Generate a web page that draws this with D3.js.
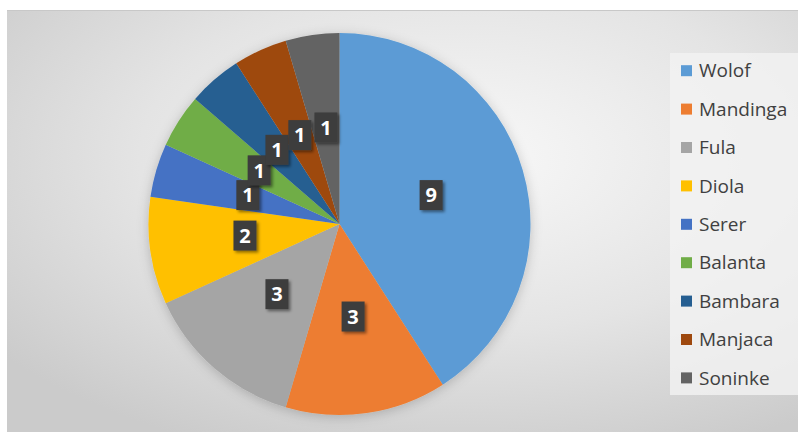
<!DOCTYPE html>
<html>
<head>
<meta charset="utf-8">
<script src="https://cdn.jsdelivr.net/npm/d3@7"></script>
<style>
html,body{margin:0;padding:0;background:#fff;}
svg{display:block;}
</style>
</head>
<body>
<svg id="chart" width="798" height="432"></svg>
<script>
const categories = ["Wolof","Mandinga","Fula","Diola","Serer","Balanta","Bambara","Manjaca","Soninke"];
const values = [9,3,3,2,1,1,1,1,1];
const colors = ["#5B9BD5","#ED7D31","#A5A5A5","#FFC000","#4472C4","#70AD47","#255E91","#9E480E","#636363"];

const svg = d3.select("#chart");
const W = 798, H = 432;
const defs = svg.append("defs");

const bg = defs.append("radialGradient").attr("id","bg")
  .attr("cx","58%").attr("cy","35%").attr("r","75%");
bg.append("stop").attr("offset","0%").attr("stop-color","#f8f8f8");
bg.append("stop").attr("offset","55%").attr("stop-color","#e4e4e4");
bg.append("stop").attr("offset","100%").attr("stop-color","#cbcbcb");

const shadow = defs.append("filter").attr("id","sh").attr("x","-50%").attr("y","-50%").attr("width","200%").attr("height","200%");
shadow.append("feDropShadow").attr("dx",2).attr("dy",2).attr("stdDeviation",1.5).attr("flood-color","#000").attr("flood-opacity",0.45);

const pieShadow = defs.append("filter").attr("id","psh").attr("x","-20%").attr("y","-20%").attr("width","140%").attr("height","140%");
pieShadow.append("feDropShadow").attr("dx",0).attr("dy",2).attr("stdDeviation",6).attr("flood-color","#000").attr("flood-opacity",0.2);

// chart area
svg.append("rect").attr("x",7).attr("y",10).attr("width",W-7).attr("height",H-10).attr("fill","url(#bg)");
svg.append("line").attr("x1",7).attr("x2",W).attr("y1",10.5).attr("y2",10.5).attr("stroke","#c8c8c8").attr("stroke-width",1);

const cx = 339.5, cy = 224, R = 191;
const pie = d3.pie().sort(null).value(d => d)(values);
const arc = d3.arc().innerRadius(0).outerRadius(R);
const labelArc = d3.arc().innerRadius(R*0.5).outerRadius(R*0.5);

const g = svg.append("g").attr("transform",`translate(${cx},${cy})`);
g.append("g").attr("filter","url(#psh)").selectAll("path").data(pie).join("path")
  .attr("d",arc).attr("fill",(d,i)=>colors[i]);

const lab = g.append("g").selectAll("g").data(pie).join("g")
  .attr("transform",d=>{const c=labelArc.centroid(d);return `translate(${c[0]},${c[1]-2})`;});
lab.append("rect").attr("x",-11.5).attr("y",-15).attr("width",23).attr("height",30)
  .attr("fill","#3d3d3d").attr("filter","url(#sh)");
lab.append("text").attr("text-anchor","middle").attr("dy","0.36em")
  .attr("font-family","'Open Sans',sans-serif").attr("font-weight","bold")
  .attr("font-size",20).attr("fill","#fff").text(d=>d.data);

// legend
const leg = svg.append("g");
leg.append("rect").attr("x",670).attr("y",53).attr("width",128).attr("height",342).attr("fill","#f2f2f2").attr("opacity",0.8);
const y0 = 70.7, dy = 38.4;
const items = leg.selectAll("g.item").data(categories).join("g").attr("class","item")
  .attr("transform",(d,i)=>`translate(681,${y0+i*dy})`);
items.append("rect").attr("x",0).attr("y",-5.5).attr("width",11).attr("height",11).attr("fill",(d,i)=>colors[i]);
items.append("text").attr("x",18).attr("dy","0.35em")
  .attr("font-family","'Open Sans',sans-serif").attr("font-size",19)
  .attr("fill","#404040").text(d=>d);
</script>
</body>
</html>
